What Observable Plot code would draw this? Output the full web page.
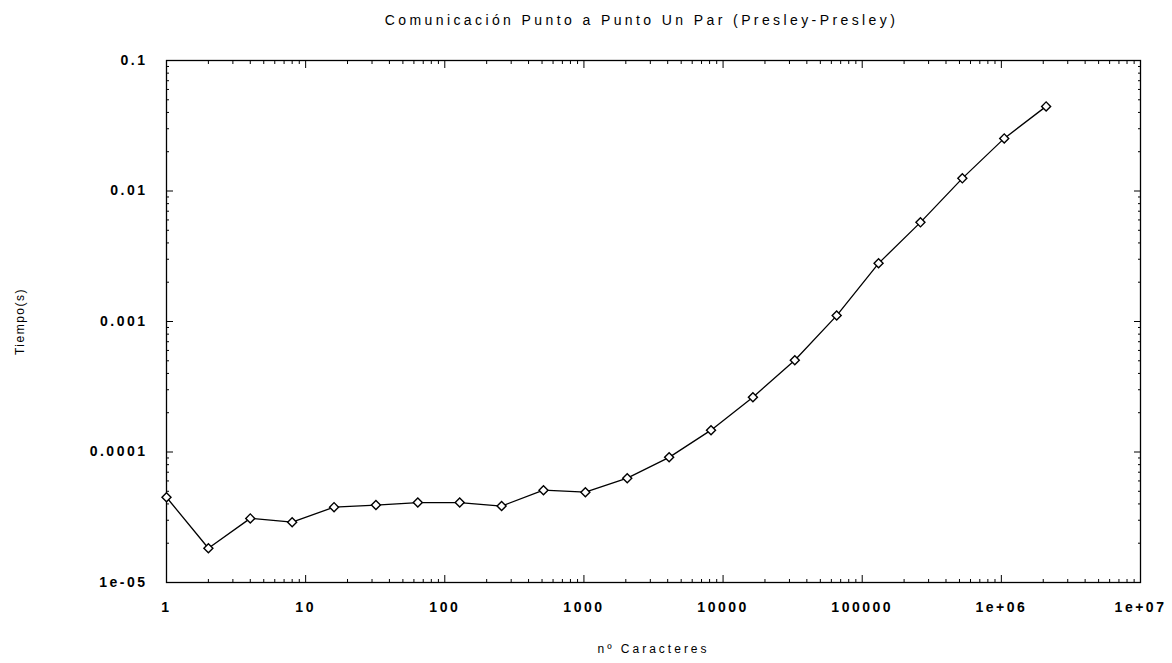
<!DOCTYPE html>
<html><head><meta charset="utf-8">
<script src="https://cdn.jsdelivr.net/npm/d3@7"></script>
<script src="https://cdn.jsdelivr.net/npm/@observablehq/plot@0.6"></script>
<style>
body{margin:0;background:#fff;} #chart svg{display:block;}
</style>
</head><body><div id="chart"></div>
<script>
const title = "Comunicación Punto a Punto Un Par (Presley-Presley)";
const xLabel = "nº Caracteres";
const yLabel = "Tiempo(s)";
const chars = [1, 2, 4, 8, 16, 32, 64, 128, 256, 512, 1024, 2048, 4096, 8192, 16384, 32768, 65536, 131072, 262144, 524288, 1048576, 2097152];
const times = [4.5e-5, 1.83e-5, 3.1e-5, 2.9e-5, 3.78e-5, 3.92e-5, 4.1e-5, 4.1e-5, 3.85e-5, 5.1e-5, 4.92e-5, 6.3e-5, 9.1e-5, 1.47e-4, 2.63e-4, 5.05e-4, 1.11e-3, 2.79e-3, 5.75e-3, 1.25e-2, 2.53e-2, 4.45e-2];
const xTicks = [1, 10, 100, 1000, 10000, 100000, 1e6, 1e7];
const xTickLabels = ["1", "10", "100", "1000", "10000", "100000", "1e+06", "1e+07"];
const yTicks = [1e-5, 1e-4, 1e-3, 1e-2, 1e-1];
const yTickLabels = ["1e-05", "0.0001", "0.001", "0.01", "0.1"];

const data = chars.map((c, i) => ({c, t: times[i]}));
const minor = (ticks) => {
  const out = [];
  for (let i = 0; i < ticks.length - 1; i++) for (let m = 2; m < 10; m++) out.push(ticks[i] * m);
  return out;
};
const xMinor = minor(xTicks), yMinor = minor(yTicks);
const blank = () => "";
const font = "Liberation Sans, Arial, sans-serif";

const chart = Plot.plot({
  width: 1172, height: 663,
  marginLeft: 166, marginRight: 32, marginTop: 60, marginBottom: 81,
  style: {fontFamily: font, fontSize: "12px", color: "#000", background: "#fff"},
  x: {type: "log", domain: [1, 1e7]},
  y: {type: "log", domain: [1e-5, 0.1]},
  marks: [
    Plot.frame({stroke: "#000", strokeWidth: 1.3}),
    Plot.axisX(xTicks, {anchor: "bottom", tickSize: 0, tickPadding: 20, tickFormat: d => xTickLabels[xTicks.indexOf(d)], fontSize: 14, fontWeight: "bold", label: null}),
    Plot.axisY(yTicks, {anchor: "left", tickSize: 0, tickPadding: 19, tickFormat: d => yTickLabels[yTicks.indexOf(d)], fontSize: 14, fontWeight: "bold", label: null}),
    Plot.axisX(xTicks, {anchor: "bottom", tickSize: -7, tickFormat: blank, label: null}),
    Plot.axisX(xTicks, {anchor: "top", tickSize: -7, tickFormat: blank, label: null}),
    Plot.axisY(yTicks, {anchor: "left", tickSize: -7, tickFormat: blank, label: null}),
    Plot.axisY(yTicks, {anchor: "right", tickSize: -7, tickFormat: blank, label: null}),
    Plot.axisX(xMinor, {anchor: "bottom", tickSize: -3, tickFormat: blank, label: null}),
    Plot.axisX(xMinor, {anchor: "top", tickSize: -3, tickFormat: blank, label: null}),
    Plot.axisY(yMinor, {anchor: "left", tickSize: -3, tickFormat: blank, label: null}),
    Plot.axisY(yMinor, {anchor: "right", tickSize: -3, tickFormat: blank, label: null}),
    Plot.line(data, {x: "c", y: "t", stroke: "#000", strokeWidth: 1.3}),
    Plot.dot(data, {x: "c", y: "t", symbol: "square", rotate: 45, r: 3.6, stroke: "#000", strokeWidth: 1.4, fill: "#fff"}),
    Plot.text([title], {frameAnchor: "top", dy: -45, dx: -12, fontSize: 14, fontFamily: font}),
    Plot.text([xLabel], {frameAnchor: "bottom", textAnchor: "middle", dy: 70, fontSize: 12, fontFamily: font}),
    Plot.text([yLabel], {frameAnchor: "left", textAnchor: "middle", lineAnchor: "middle", dx: -146, rotate: -90, fontSize: 12, fontFamily: font})
  ]
});
const s = d3.select(chart);
s.selectAll("g[aria-label='x-axis tick label'] text, g[aria-label='y-axis tick label'] text").style("letter-spacing", "2.5px");
const byText = (t) => s.selectAll("text").filter(function () { return this.textContent === t; });
byText(title).style("letter-spacing", "3.4px");
byText(xLabel).style("letter-spacing", "3px");
byText(yLabel).style("letter-spacing", "1.5px");
document.getElementById("chart").appendChild(chart);
</script>
</body></html>
